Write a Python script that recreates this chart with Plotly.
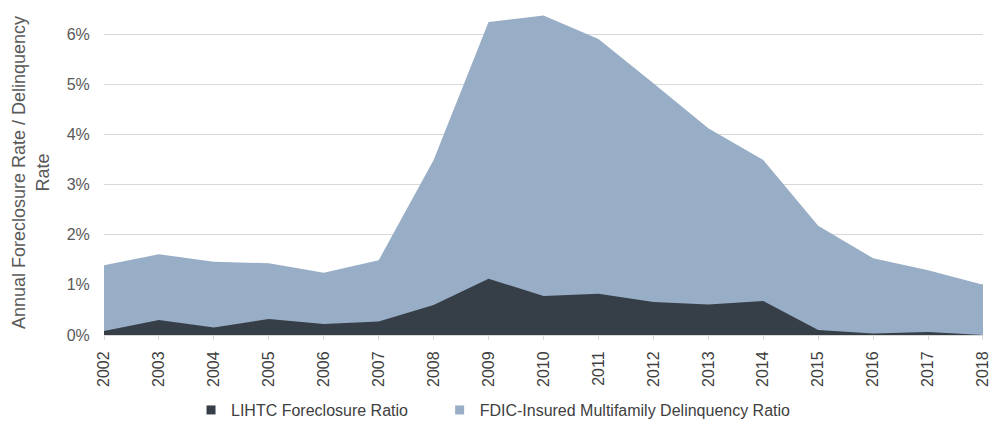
import plotly.graph_objects as go

years = list(range(2002, 2019))
lihtc = [0.08, 0.30, 0.15, 0.32, 0.22, 0.27, 0.60, 1.12, 0.78, 0.82, 0.66, 0.61, 0.68, 0.10, 0.03, 0.06, 0.00]
fdic = [1.39, 1.61, 1.46, 1.43, 1.24, 1.49, 3.49, 6.24, 6.37, 5.90, 5.02, 4.12, 3.49, 2.18, 1.53, 1.29, 1.00]
y_ticks = [0, 1, 2, 3, 4, 5, 6]
y_tick_labels = ["0%", "1%", "2%", "3%", "4%", "5%", "6%"]

C_FDIC = "#98adc6"
C_LIHTC = "#363e47"

fig = go.Figure()
fig.add_trace(go.Scatter(
    x=years, y=fdic, name="FDIC-Insured Multifamily Delinquency Ratio",
    mode="lines", fill="tozeroy", line=dict(color=C_FDIC, width=0),
    fillcolor=C_FDIC, showlegend=False))
fig.add_trace(go.Scatter(
    x=years, y=lihtc, name="LIHTC Foreclosure Ratio",
    mode="lines", fill="tozeroy", line=dict(color=C_LIHTC, width=0),
    fillcolor=C_LIHTC, showlegend=False))
# legend entries with square swatches
fig.add_trace(go.Scatter(
    x=[None], y=[None], mode="markers", name="LIHTC Foreclosure Ratio" + "\u00a0" * 6,
    marker=dict(symbol="square", size=9, color=C_LIHTC), legendrank=1))
fig.add_trace(go.Scatter(
    x=[None], y=[None], mode="markers", name="FDIC-Insured Multifamily Delinquency Ratio",
    marker=dict(symbol="square", size=9, color=C_FDIC), legendrank=2))

fig.update_layout(
    width=993, height=421,
    margin=dict(l=104, r=10, t=10, b=86, autoexpand=False),
    paper_bgcolor="white", plot_bgcolor="white",
    font=dict(family="Liberation Sans, Arial", color="#595959", size=16),
    showlegend=True,
    legend=dict(orientation="h", xref="container", yref="container",
                x=0.497, y=0.026, xanchor="center", yanchor="middle",
                font=dict(size=16, color="#404040"), itemwidth=30,
                bgcolor="rgba(0,0,0,0)"),
    xaxis=dict(range=[2001.9999, 2018.0001], tickmode="array", tickvals=years,
               ticktext=[str(y) for y in years], tickangle=-90,
               ticklabeloverflow="allow", ticklabelstandoff=5, automargin=False,
               showgrid=False, zeroline=False, showline=True, linecolor="#d9d9d9",
               ticks="outside", ticklen=4, tickcolor="#d9d9d9",
               tickfont=dict(size=16, color="#404040")),
    yaxis=dict(range=[0, 6.48], tickmode="array", tickvals=y_ticks, ticktext=y_tick_labels,
               showgrid=True, gridcolor="#d9d9d9", gridwidth=1, zeroline=False,
               ticks="outside", ticklen=10, tickcolor="rgba(0,0,0,0)", automargin=False,
               tickfont=dict(size=16, color="#595959"),
               title=dict(text="Annual Foreclosure Rate / Delinquency<br>Rate",
                          font=dict(size=18, color="#595959"), standoff=12)),
)
fig.write_html("out.html")
